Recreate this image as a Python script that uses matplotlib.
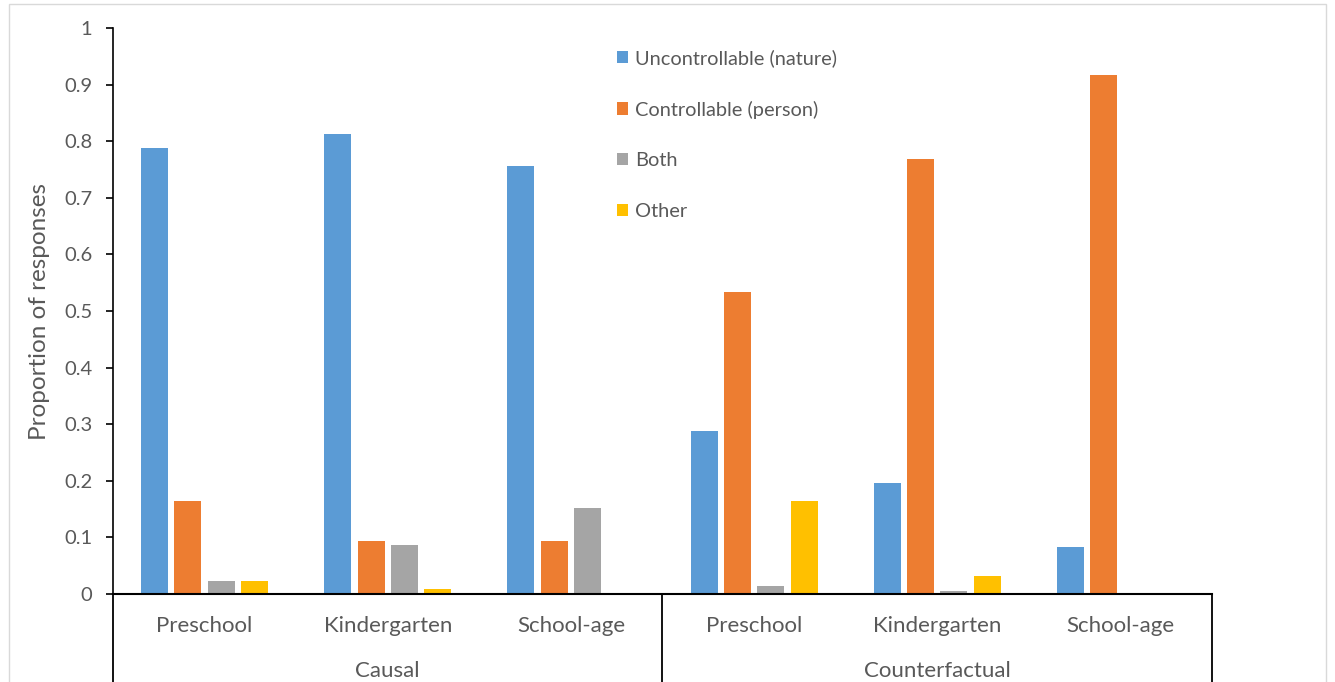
import matplotlib
matplotlib.use("Agg")
import matplotlib.pyplot as plt
from matplotlib.patches import Rectangle
import numpy as np

plt.rcParams['font.family'] = ['Lato', 'DejaVu Sans']

groups = ["Causal", "Counterfactual"]
ages = ["Preschool", "Kindergarten", "School-age"]
series = ["Uncontrollable (nature)", "Controllable (person)", "Both", "Other"]
colors = ["#5B9BD5", "#ED7D31", "#A5A5A5", "#FFC000"]

uncontrollable = [0.788, 0.812, 0.756, 0.288, 0.196, 0.083]
controllable = [0.164, 0.094, 0.094, 0.534, 0.768, 0.917]
both = [0.023, 0.086, 0.152, 0.014, 0.005, 0.0]
other = [0.023, 0.008, 0.0, 0.164, 0.031, 0.0]
values = [uncontrollable, controllable, both, other]

W, H = 1335, 682
fig = plt.figure(figsize=(W / 100, H / 100), dpi=100)
fig.patches.append(Rectangle((9 / W, -0.01), (1326 - 9) / W, (H - 4) / H + 0.01,
                             transform=fig.transFigure, fill=False,
                             edgecolor="#D9D9D9", linewidth=1.0))

x0, x1 = 113, 1212
y0, y1 = 594, 28
ax = fig.add_axes([x0 / W, (H - y0) / H, (x1 - x0) / W, (y0 - y1) / H])

n = len(ages) * len(groups)
centers = np.arange(n) + 0.5
step = 0.182
bw = 0.148
for i, (name, vals, c) in enumerate(zip(series, values, colors)):
    ax.bar(centers + (i - 1.5) * step, vals, width=bw, color=c, label=name, zorder=2)

ax.set_xlim(0, n)
ax.set_ylim(0, 1)
ax.set_yticks(np.arange(0, 1.01, 0.1))
ax.set_yticklabels(["0"] + [f"{v:.1f}" for v in np.arange(0.1, 0.95, 0.1)] + ["1"])
ax.tick_params(axis='y', direction='out', length=5, width=1.2, colors='black',
               labelcolor='#595959', labelsize=14.5, pad=10)
ax.set_xticks([])
for s in ["top", "right"]:
    ax.spines[s].set_visible(False)
ax.spines["left"].set_linewidth(1.2)
ax.spines["bottom"].set_linewidth(1.5)

trans = ax.get_xaxis_transform()
ybot = -(H - y0) / (y0 - y1) - 0.01
for xv in [0, 3, 6]:
    ax.plot([xv, xv], [0, ybot], transform=trans, color='black', lw=1.3, clip_on=False)

labels_sub = ages * len(groups)
for c, lab in zip(centers, labels_sub):
    ax.text(c, -(626 - y0) / (y0 - y1), lab, transform=trans, ha='center', va='center',
            fontsize=16, color='#595959')
for gi, g in enumerate(groups):
    ax.text(gi * 3 + 1.5, -(671 - y0) / (y0 - y1), g, transform=trans, ha='center',
            va='center', fontsize=16, color='#595959')

ax.set_ylabel("Proportion of responses", fontsize=17.5, color='#595959', labelpad=10)

leg = ax.legend(loc='upper left', bbox_to_anchor=(609 / W, 1 - 41 / H),
                bbox_transform=fig.transFigure, frameon=False, fontsize=14.4,
                handlelength=0.55, handleheight=0.55, handletextpad=0.35,
                labelspacing=1.68, borderaxespad=0)
for t in leg.get_texts():
    t.set_color('#595959')

fig.savefig("out.png", dpi=100)
